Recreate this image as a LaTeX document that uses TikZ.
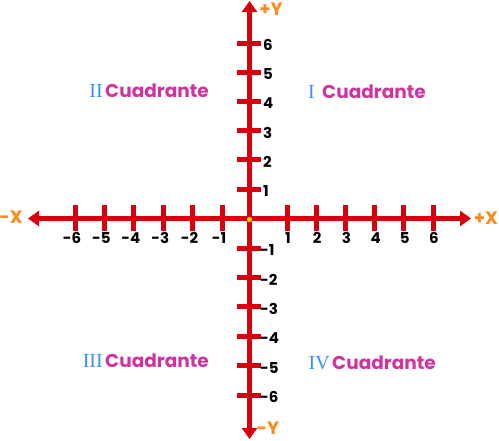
\documentclass[tikz,border=0pt]{standalone}
\usepackage{fontspec}
\setmainfont{Poppins}
\newfontfamily\romfont{Liberation Serif}
\usetikzlibrary{arrows.meta,positioning,calc}
\definecolor{axisred}{HTML}{D9000D}
\definecolor{axisorange}{HTML}{FF8A1C}
\definecolor{quadpink}{HTML}{D1339E}
\definecolor{quadblue}{HTML}{3A8EF6}
\begin{document}
\begin{tikzpicture}[x=1pt,y=-1pt]

\tikzstyle{axis} = [draw=axisred, line width=5pt, -{Triangle[length=11pt,width=15pt]}]
\tikzstyle{tick} = [draw=axisred, line width=5pt]
\tikzstyle{num} = [font=\bfseries\fontsize{15}{15}\selectfont, inner sep=0pt]
\tikzstyle{end} = [text=axisorange, font=\bfseries\fontsize{18}{18}\selectfont, inner sep=0pt]
\tikzstyle{quad} = [text=quadpink, font=\bfseries\fontsize{18.5}{18.5}\selectfont, inner sep=0pt, anchor=west]
\tikzstyle{roman} = [text=quadblue, font=\romfont\fontsize{20}{20}\selectfont, inner sep=0pt, anchor=east, xshift=-2pt]

\useasboundingbox (0,0) rectangle (499,440);

\coordinate (origin) at (249.5,218.5);
\coordinate (xleft) at (28,218.5);
\coordinate (xright) at (471,218.5);
\coordinate (ytop) at (249.5,1);
\coordinate (ybottom) at (249.5,439);

% ticks on the axes
\foreach \i in {1,...,6} {
  \pgfmathsetmacro\xp{287+29.2*(\i-1)}
  \pgfmathsetmacro\xn{222-29.4*(\i-1)}
  \pgfmathsetmacro\yp{189-29.2*(\i-1)}
  \pgfmathsetmacro\yn{248+29.4*(\i-1)}
  \draw[tick] (\xp,205) -- (\xp,231);
  \draw[tick] (\xn,205) -- (\xn,231);
  \draw[tick] (237,\yp) -- (261,\yp);
  \draw[tick] (237,\yn) -- (261,\yn);
  \node[num] (xp\i) at (\xp+1,238) {\i};
  \node[num] (xn\i) at (\xn-3,238) {-\i};
  \node[num, anchor=west] (yp\i) at (263,\yp+2) {\i};
  \node[num, anchor=west] (yn\i) at (260,\yn+2) {-\i};
}

\draw[axis] (origin) -- (xleft);
\draw[axis] (origin) -- (xright);
\draw[axis] (origin) -- (ytop);
\draw[axis] (origin) -- (ybottom);
\fill[yellow!80!orange] ($(origin)+(0,1)$) circle (2.6);

\node[end] (plusy) at (271,9) {+Y};
\node[end] (minusy) at (268,428) {-Y};
\node[end] (minusx) at (11,217) {-X};
\node[end] (plusx) at (486,218) {+X};

\node[quad] (q2) at (105,91) {Cuadrante};
\node[roman] at (q2.west) {II};
\node[quad] (q1) at (322,92) {Cuadrante};
\node[roman, xshift=-5pt] at (q1.west) {I};
\node[quad] (q3) at (105,361) {Cuadrante};
\node[roman] at (q3.west) {III};
\node[quad] (q4) at (332,363) {Cuadrante};
\node[roman] at (q4.west) {IV};

\end{tikzpicture}
\end{document}
